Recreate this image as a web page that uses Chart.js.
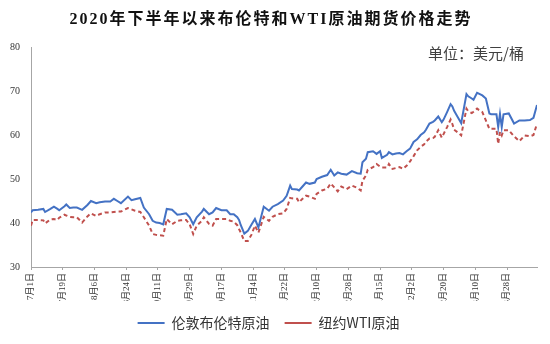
<!DOCTYPE html>
<html>
<head>
<meta charset="utf-8">
<script src="https://cdn.jsdelivr.net/npm/chart.js@4"></script>
<style>
html,body{margin:0;padding:0;background:#fff;}
canvas{display:block;}
</style>
</head>
<body>
<canvas id="c" width="550" height="344"></canvas>
<script>
const titleText = '2020年下半年以来布伦特和WTI原油期货价格走势';
const unitText = '单位：美元/桶';
const seriesNames = ['伦敦布伦特原油', '纽约WTI原油'];
const tickDays = [0,18,36,54,72,90,108,126,144,162,180,198,216,234,252,270];
const tickLabels = ['7月1日','7月19日','8月6日','8月24日','9月11日','9月29日','10月17日','11月4日','11月22日','12月10日','12月28日','1月15日','2月2日','2月20日','3月10日','3月28日'];
const yTicks = [30,40,50,60,70,80];

// calendar day offsets from 2020-07-01
const dayOffsets = [0,1,4,7,8,11,13,15,16,19,20,22,24,26,29,32,34,37,39,42,45,47,49,51,55,57,59,62,64,67,69,71,73,75,77,80,83,85,88,90,92,94,97,98,101,103,105,108,111,113,115,117,118,119,121,123,125,127,129,132,135,137,140,143,145,147,148,151,152,154,156,158,161,162,165,168,170,172,174,176,179,182,185,187,188,190,191,194,196,198,199,202,203,205,207,209,211,213,215,217,219,221,223,224,226,228,229,231,233,234,236,238,239,240,242,244,247,248,250,251,253,254,256,258,260,261,264,265,266,267,268,271,274,277,280,283,285,287];

const brent = [42.4,42.9,43.0,43.2,42.5,43.2,43.7,43.2,42.9,43.8,44.2,43.4,43.5,43.5,43.0,44.1,45.0,44.5,44.7,44.9,44.9,45.5,45.0,44.5,46.0,45.2,45.4,45.7,43.5,42.0,40.5,40.1,40.0,39.7,43.2,43.0,41.9,42.0,42.2,41.3,39.7,41.3,42.6,43.2,42.0,42.4,43.4,42.9,42.9,42.0,42.0,41.3,40.7,39.5,37.6,38.2,39.6,40.9,39.0,43.7,42.8,43.7,44.3,45.1,46.2,48.5,47.7,47.6,47.4,48.3,49.2,48.9,49.2,50.0,50.5,50.9,52.1,50.8,51.5,51.2,51.0,51.8,51.3,51.2,53.8,54.6,56.1,56.3,55.7,56.3,54.8,55.5,56.1,55.6,55.8,55.9,55.6,56.3,56.9,58.4,59.0,60.0,60.6,61.2,62.6,63.0,63.3,64.2,62.9,63.5,65.2,67.0,66.5,65.5,64.1,62.7,69.3,68.8,68.3,68.0,69.6,69.4,69.0,68.3,64.9,64.7,64.7,61.8,64.8,61.8,64.7,64.9,62.6,63.3,63.3,63.4,63.9,66.8];

const wti = [39.4,40.7,40.7,40.6,39.9,40.8,40.9,40.7,41.2,41.9,41.7,41.4,41.3,41.3,40.1,41.5,42.2,41.6,42.0,42.4,42.4,42.5,42.6,42.6,43.4,43.1,42.8,42.5,41.3,39.4,37.5,37.3,37.2,37.1,40.9,39.7,40.5,40.6,40.7,39.7,37.5,39.4,40.5,41.3,39.8,39.4,40.9,40.9,40.9,40.5,40.3,39.5,38.6,37.8,35.9,35.9,37.3,39.4,37.8,41.4,40.5,41.4,42.0,42.2,43.2,45.7,45.6,45.5,44.7,45.5,46.2,46.0,45.5,46.6,47.4,47.8,49.0,48.1,47.2,48.3,47.7,48.5,48.0,47.4,49.6,50.8,52.1,52.7,53.4,52.8,52.6,52.6,53.4,52.3,52.5,52.7,52.3,53.0,54.0,55.2,56.5,57.3,57.9,58.5,59.2,59.3,59.6,61.1,59.4,60.2,61.8,63.5,62.5,61.2,60.6,59.9,66.0,65.4,65.0,65.3,66.0,65.7,65.2,63.3,61.4,61.4,61.4,58.0,60.7,59.9,61.1,61.1,59.7,58.6,59.9,59.7,60.0,62.6];

const toPoints = vals => vals.map((v, i) => ({x: dayOffsets[i], y: v}));

const textPlugin = {
  id: 'textPlugin',
  afterDraw(chart) {
    const ctx = chart.ctx;
    ctx.save();
    ctx.fillStyle = '#111';
    ctx.font = "bold 16px 'Liberation Serif', 'Noto Sans CJK SC'";
    ctx.textAlign = 'center';
    ctx.textBaseline = 'middle';
    try { ctx.letterSpacing = '2px'; } catch (e) {}
    ctx.fillText(titleText, 271, 20);
    ctx.fillStyle = '#404040';
    ctx.font = "15px 'Noto Sans CJK SC'";
    ctx.textAlign = 'right';
    try { ctx.letterSpacing = '0px'; } catch (e) {}
    ctx.fillText(unitText, 524, 53);
    ctx.restore();
  }
};

new Chart(document.getElementById('c'), {
  type: 'line',
  data: {
    datasets: [
      {
        label: seriesNames[0],
        data: toPoints(brent),
        borderColor: '#4472C4',
        backgroundColor: '#4472C4',
        borderWidth: 2,
        pointRadius: 0,
        tension: 0
      },
      {
        label: seriesNames[1],
        data: toPoints(wti),
        borderColor: '#C0504D',
        backgroundColor: '#C0504D',
        borderWidth: 2,
        borderDash: [4, 3],
        pointRadius: 0,
        tension: 0
      }
    ]
  },
  options: {
    responsive: false,
    animation: false,
    devicePixelRatio: 1,
    layout: { padding: { top: 47, right: 13, left: 0, bottom: 4 } },
    plugins: {
      title: { display: false },
      tooltip: { enabled: false },
      legend: {
        position: 'bottom',
        labels: {
          usePointStyle: true,
          pointStyle: 'line',
          pointStyleWidth: 27,
          boxHeight: 14,
          padding: 15,
          color: '#333',
          font: { family: "'Noto Sans CJK SC'", size: 14 }
        }
      }
    },
    scales: {
      x: {
        type: 'linear',
        min: 0,
        max: 287,
        afterBuildTicks: s => { s.ticks = tickDays.map(v => ({ value: v })); },
        afterFit: s => { s.height = 34; },
        ticks: {
          autoSkip: false,
          minRotation: 90,
          maxRotation: 90,
          padding: 3,
          color: '#333',
          font: { family: "'Liberation Serif', 'Noto Sans CJK SC'", size: 9 },
          callback: (v, i) => tickLabels[i]
        },
        grid: { display: true, drawOnChartArea: false, drawTicks: true, tickLength: 3, color: '#A6A6A6' },
        border: { display: true, color: '#A6A6A6', width: 1 }
      },
      y: {
        min: 30,
        max: 80,
        afterBuildTicks: s => { s.ticks = yTicks.map(v => ({ value: v })); },
        afterFit: s => { s.width = 31; },
        ticks: {
          padding: 11,
          color: '#333',
          font: { family: "'Liberation Serif'", size: 10 }
        },
        grid: { display: true, drawOnChartArea: false, drawTicks: false, color: 'rgba(0,0,0,0)' },
        border: { display: true, color: '#A6A6A6', width: 1 }
      }
    }
  },
  plugins: [textPlugin]
});
</script>
</body>
</html>
